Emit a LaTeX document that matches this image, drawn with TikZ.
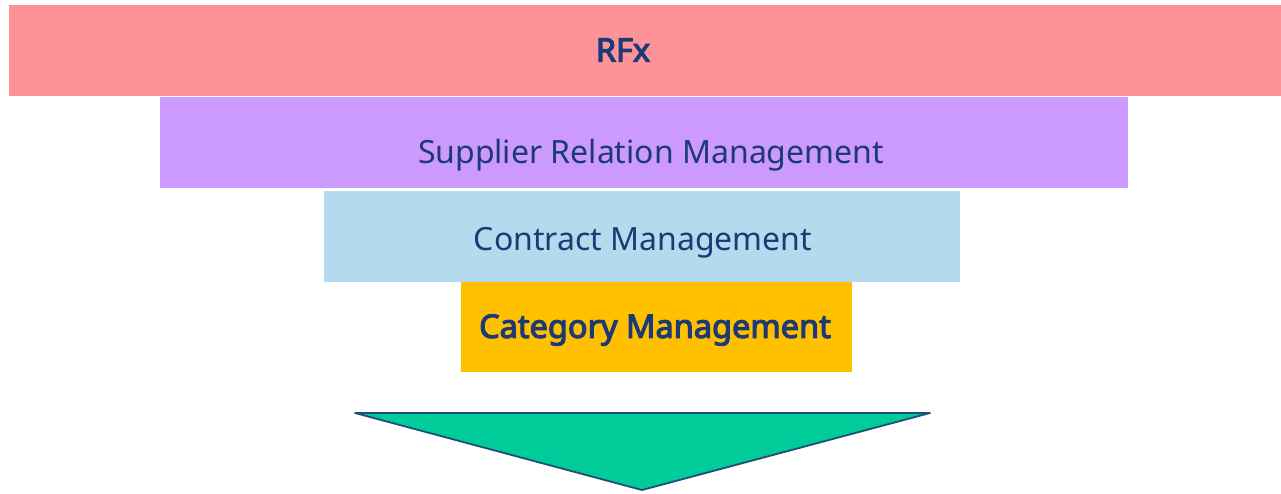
\documentclass[tikz,border=0pt]{standalone}
\usepackage{fontspec}
\setmainfont{Noto Sans}
\newfontfamily\heavysans{Noto Sans}[FakeBold=3.5]
\definecolor{rfxfill}{HTML}{FC9398}
\definecolor{srmfill}{HTML}{CC99FF}
\definecolor{cmfill}{HTML}{B4DAEE}
\definecolor{catfill}{HTML}{FFC000}
\definecolor{arrowfill}{HTML}{00CC99}
\definecolor{arrowline}{HTML}{1F4E79}
\definecolor{labelblue}{HTML}{1C3A75}
\begin{document}
\begin{tikzpicture}[x=1pt,y=-1pt,
  band/.style={draw=none,inner sep=0pt,anchor=north west},
  lbl/.style={text=labelblue,font=\fontsize{32}{38}\selectfont,inner sep=0pt,anchor=center},
  boldlbl/.style={lbl,font=\heavysans\fontsize{32.5}{38}\selectfont}]
  \useasboundingbox[fill=white] (0,0) rectangle (1281,493);
  % stacked process bands
  \node[band,fill=rfxfill,minimum width=1272pt,minimum height=91pt] (rfx) at (9,5) {};
  \node[band,fill=srmfill,minimum width=968pt,minimum height=91pt] (srm) at (160,97) {};
  \node[band,fill=cmfill,minimum width=636pt,minimum height=91pt] (cm) at (324,191) {};
  \node[band,fill=catfill,minimum width=391pt,minimum height=90pt] (cat) at (461,282) {};
  % band labels
  \node[boldlbl] (rfxt) at (623,50) {RFx};
  \node[lbl] (srmt) at (651,155) {Supplier Relation Management};
  \node[lbl] (cmt) at (643,243) {Contract Management};
  \node[boldlbl] (catt) at (655,330) {Category Management};
  % downward funnel arrow
  \coordinate (tl) at (355,413);
  \coordinate (tr) at (930,413);
  \coordinate (tip) at (642,490);
  \draw[draw=arrowline,fill=arrowfill,line width=1.8pt,line join=round] (tl) -- (tr) -- (tip) -- cycle;
\end{tikzpicture}
\end{document}
